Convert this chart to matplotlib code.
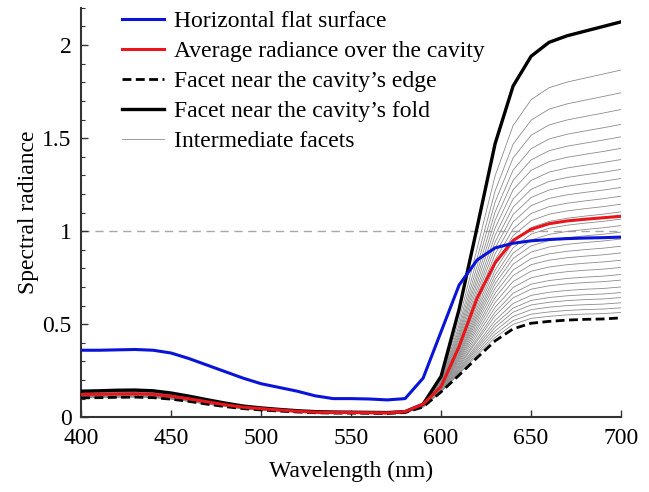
import numpy as np
import matplotlib.pyplot as plt
from matplotlib.ticker import MultipleLocator

plt.rcParams['font.family'] = ['Liberation Serif', 'DejaVu Serif']

wavelength = np.arange(400, 701, 10)

flat = [0.36, 0.36, 0.362, 0.364, 0.36, 0.345, 0.315, 0.28, 0.245, 0.21,
        0.18, 0.16, 0.14, 0.115, 0.10, 0.10, 0.098, 0.093, 0.10, 0.21,
        0.46, 0.71, 0.845, 0.91, 0.935, 0.948, 0.955, 0.96, 0.963, 0.965, 0.968]

average = [0.122, 0.123, 0.125, 0.126, 0.123, 0.113, 0.099, 0.083, 0.067, 0.054,
           0.046, 0.039, 0.032, 0.027, 0.025, 0.025, 0.024, 0.023, 0.03, 0.07,
           0.165, 0.38, 0.64, 0.83, 0.95, 1.01, 1.04, 1.055, 1.064, 1.072, 1.08]

edge = [0.104, 0.105, 0.107, 0.108, 0.105, 0.097, 0.085, 0.07, 0.057, 0.046,
        0.039, 0.033, 0.028, 0.024, 0.022, 0.022, 0.021, 0.02, 0.025, 0.055,
        0.136, 0.226, 0.32, 0.41, 0.475, 0.505, 0.515, 0.522, 0.526, 0.528, 0.534]

fold = [0.14, 0.142, 0.145, 0.146, 0.142, 0.13, 0.113, 0.094, 0.076, 0.06,
        0.05, 0.042, 0.035, 0.03, 0.028, 0.027, 0.026, 0.025, 0.03, 0.07,
        0.22, 0.58, 1.02, 1.47, 1.78, 1.94, 2.015, 2.05, 2.075, 2.10, 2.125]

# value of each intermediate facet at 700 nm
facet_end = [1.866, 1.744, 1.654, 1.574, 1.507, 1.445, 1.385, 1.332, 1.283,
             1.235, 1.188, 1.145, 1.104, 1.065, 1.03, 0.995, 0.958, 0.919,
             0.883, 0.844, 0.805, 0.767, 0.737, 0.70, 0.67, 0.643, 0.615,
             0.588, 0.563]

edge_a = np.array(edge)
fold_a = np.array(fold)

fig = plt.figure(figsize=(6.49, 4.92), dpi=100)
ax = fig.add_axes([0.125, 0.152, 0.832, 0.832])

ax.axhline(1, color='#a8a8a8', lw=1, dashes=(6, 4), zorder=1)

for i, v in enumerate(facet_end):
    w = (v - edge_a[-1]) / (fold_a[-1] - edge_a[-1])
    ax.plot(wavelength, edge_a + w * (fold_a - edge_a), color='#8c8c8c', lw=0.6,
            label='Intermediate facets' if i == 0 else None, zorder=2)

h_edge, = ax.plot(wavelength, edge, color='black', lw=2, dashes=(3.2, 1.6),
                  label='Facet near the cavity\u2019s edge', zorder=3)
h_fold, = ax.plot(wavelength, fold, color='black', lw=2.4,
                  label='Facet near the cavity\u2019s fold', zorder=3)
h_avg, = ax.plot(wavelength, average, color='#e8161c', lw=2.2,
                 label='Average radiance over the cavity', zorder=4)
h_flat, = ax.plot(wavelength, flat, color='#0a14d8', lw=2.2,
                  label='Horizontal flat surface', zorder=5)

h_int = ax.get_lines()[1]
ax.legend(handles=[h_flat, h_avg, h_edge, h_fold, h_int], loc='upper left',
          bbox_to_anchor=(0.036, 1.045), frameon=False, fontsize=17,
          handlelength=1.8, handletextpad=0.4, labelspacing=0.36)

ax.set_xlim(400, 700)
ax.set_ylim(0, 2.2)
ax.xaxis.set_major_locator(MultipleLocator(50))
ax.yaxis.set_minor_locator(MultipleLocator(0.1))
ax.set_yticks([0, 0.5, 1, 1.5, 2])
ax.set_yticklabels(['0', '0.5', '1', '1.5', '2'])
ax.tick_params(direction='in', labelsize=17, length=5, width=1, color='#333333')
ax.tick_params(axis='x', pad=8)
ax.tick_params(axis='y', pad=7)
ax.tick_params(which='minor', direction='in', length=3, width=0.8, color='#333333')
for s in ['top', 'right']:
    ax.spines[s].set_visible(False)
for s in ['left', 'bottom']:
    ax.spines[s].set_linewidth(1.5)
    ax.spines[s].set_color('#333333')

ax.set_xlabel('Wavelength (nm)', fontsize=17, labelpad=8)
ax.set_ylabel('Spectral radiance', fontsize=17, labelpad=2)

fig.savefig('out.png', dpi=100)
